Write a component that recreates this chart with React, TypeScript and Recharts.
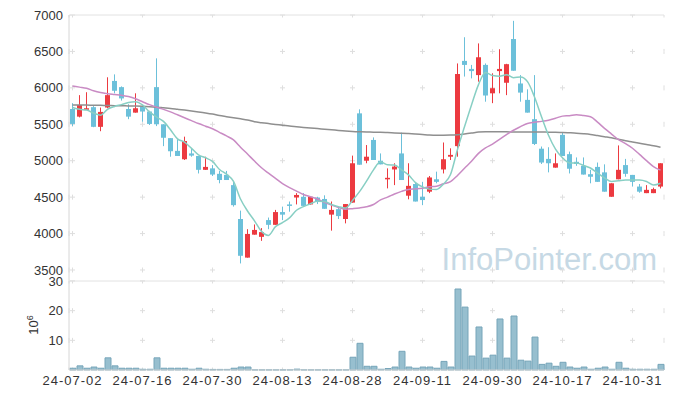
import React from 'react';
import { ComposedChart, BarChart, Bar, Line, XAxis, YAxis, CartesianGrid, ReferenceLine } from 'recharts';

// trading days shown on the x axis
const dates = [
  '24-07-02', '24-07-03', '24-07-04', '24-07-05', '24-07-08', '24-07-09', '24-07-10', '24-07-11', '24-07-12', '24-07-15',
  '24-07-16', '24-07-17', '24-07-18', '24-07-19', '24-07-22', '24-07-23', '24-07-24', '24-07-25', '24-07-26', '24-07-29',
  '24-07-30', '24-07-31', '24-08-01', '24-08-02', '24-08-05', '24-08-06', '24-08-07', '24-08-08', '24-08-09', '24-08-12',
  '24-08-13', '24-08-14', '24-08-16', '24-08-19', '24-08-20', '24-08-21', '24-08-22', '24-08-23', '24-08-26', '24-08-27',
  '24-08-28', '24-08-29', '24-08-30', '24-09-02', '24-09-03', '24-09-04', '24-09-05', '24-09-06', '24-09-09', '24-09-10',
  '24-09-11', '24-09-12', '24-09-13', '24-09-19', '24-09-20', '24-09-23', '24-09-24', '24-09-25', '24-09-26', '24-09-27',
  '24-09-30', '24-10-02', '24-10-04', '24-10-07', '24-10-08', '24-10-10', '24-10-11', '24-10-14', '24-10-15', '24-10-16',
  '24-10-17', '24-10-18', '24-10-21', '24-10-22', '24-10-23', '24-10-24', '24-10-25', '24-10-28', '24-10-29', '24-10-30',
  '24-10-31', '24-11-01', '24-11-04', '24-11-05', '24-11-06',
];

const opens = [
  5710, 5605, 5715, 5735, 5465, 5730, 6095, 6010, 5710, 5660,
  5745, 5675, 6010, 5500, 5310, 5135, 5020, 5100, 5065, 4875,
  4895, 4820, 4805, 4665, 4200, 3670, 3985, 3955, 4185, 4120,
  4295, 4400, 4495, 4505, 4400, 4495, 4475, 4260, 4335, 4200,
  4425, 5650, 5000, 5285, 5000, 4750, 4880, 5100, 4520, 4680,
  4505, 4575, 4745, 4880, 5055, 5200, 6370, 6260, 6175, 6315,
  5925, 6230, 6070, 6670, 6060, 5835, 5570, 5165, 5025, 4905,
  5355, 5090, 4985, 4930, 4815, 4915, 4840, 4505, 4745, 4940,
  4805, 4645, 4555, 4555, 4645,
];
const highs = [
  5790, 5900, 5940, 5750, 5730, 6145, 6185, 6020, 5775, 5925,
  5765, 5685, 6405, 5500, 5310, 5295, 5330, 5170, 5065, 5055,
  4940, 4860, 4860, 4710, 4315, 4060, 4125, 4075, 4220, 4325,
  4370, 4440, 4555, 4555, 4505, 4505, 4525, 4440, 4355, 4405,
  5070, 5705, 5215, 5320, 5100, 4895, 4965, 5385, 4965, 4700,
  4710, 4790, 4850, 5250, 5170, 6335, 6695, 6315, 6610, 6335,
  6200, 6530, 6330, 6920, 6175, 5980, 6175, 5195, 5185, 5100,
  5385, 5125, 5045, 5045, 4875, 4975, 4950, 4690, 5210, 5025,
  4805, 4680, 4665, 4630, 4965,
];
const lows = [
  5475, 5595, 5710, 5460, 5405, 5720, 5925, 5825, 5570, 5660,
  5535, 5490, 5475, 5200, 5055, 5065, 5010, 5055, 4825, 4875,
  4790, 4690, 4735, 4370, 3590, 3670, 3985, 3900, 4060, 4120,
  4185, 4300, 4400, 4380, 4395, 4405, 4340, 4040, 4200, 4140,
  4425, 4945, 4965, 5010, 4950, 4620, 4665, 4735, 4470, 4440,
  4390, 4555, 4690, 4825, 5010, 5055, 6155, 6130, 6085, 5810,
  5790, 5925, 5900, 6235, 5810, 5660, 5215, 4955, 4840, 4905,
  5065, 4825, 4930, 4810, 4690, 4710, 4575, 4505, 4745, 4780,
  4645, 4560, 4555, 4555, 4620,
];
const closes = [
  5505, 5765, 5720, 5465, 5670, 5900, 5960, 5855, 5605, 5720,
  5675, 5505, 5500, 5315, 5130, 5065, 5270, 5070, 4875, 4915,
  4810, 4735, 4735, 4390, 3695, 3995, 4050, 4020, 4120, 4295,
  4260, 4385, 4530, 4380, 4505, 4440, 4340, 4325, 4240, 4405,
  4965, 4945, 5055, 5010, 4950, 4765, 4920, 4735, 4655, 4440,
  4460, 4770, 4710, 5020, 5080, 6190, 6315, 6230, 6420, 5895,
  5995, 6260, 6325, 6235, 5935, 5660, 5230, 4975, 4965, 4965,
  5065, 4890, 4955, 4810, 4780, 4710, 4575, 4690, 4875, 4820,
  4710, 4575, 4600, 4610, 4965,
];

// moving averages
const ma5 = [
  5730, 5705, 5695, 5655, 5625, 5705, 5745, 5770, 5800, 5810,
  5765, 5670, 5600, 5540, 5425, 5300, 5255, 5170, 5080, 5040,
  4990, 4880, 4815, 4715, 4475, 4310, 4175, 4030, 3975, 4095,
  4150, 4215, 4320, 4370, 4410, 4445, 4440, 4400, 4370, 4350,
  4455, 4575, 4720, 4875, 4985, 4945, 4940, 4875, 4805, 4700,
  4640, 4610, 4605, 4680, 4810, 5155, 5465, 5765, 6045, 6210,
  6170, 6160, 6180, 6140, 6150, 6085, 5875, 5605, 5350, 5160,
  5040, 4970, 4970, 4935, 4900, 4830, 4765, 4715, 4725, 4735,
  4735, 4735, 4715, 4665, 4690,
];
const ma20 = [
  6025, 6010, 5995, 5960, 5935, 5920, 5910, 5900, 5880, 5850,
  5810, 5770, 5735, 5705, 5670, 5630, 5590, 5550, 5510, 5474,
  5439, 5390, 5340, 5285, 5186, 5091, 4995, 4903, 4829, 4758,
  4687, 4631, 4583, 4536, 4505, 4474, 4428, 4391, 4359, 4334,
  4342, 4352, 4368, 4399, 4462, 4500, 4543, 4579, 4606, 4613,
  4623, 4642, 4651, 4683, 4712, 4798, 4897, 4992, 5101, 5175,
  5227, 5293, 5357, 5418, 5467, 5512, 5528, 5540, 5556, 5582,
  5612, 5618, 5630, 5619, 5604, 5530, 5443, 5366, 5289, 5235,
  5171, 5087, 5001, 4920, 4871,
];
const ma60 = [
  5765, 5764, 5763, 5762, 5760, 5758, 5756, 5754, 5752, 5750,
  5747, 5742, 5735, 5726, 5717, 5706, 5695, 5683, 5670, 5656,
  5640, 5620, 5605, 5590, 5575, 5560, 5535, 5522, 5510, 5498,
  5487, 5475, 5466, 5457, 5449, 5441, 5433, 5425, 5416, 5408,
  5402, 5398, 5395, 5392, 5389, 5386, 5382, 5378, 5373, 5367,
  5360, 5353, 5350, 5350, 5352, 5358, 5368, 5380, 5393, 5399,
  5399, 5398, 5396, 5395, 5394, 5394, 5394, 5393, 5392, 5390,
  5387, 5383, 5378, 5370, 5360, 5345, 5330, 5315, 5295, 5275,
  5258, 5240, 5222, 5205, 5185,
];

// volume in millions of shares
const volumes = [
  0.6, 1.4, 0.6, 1.0, 0.6, 4.1, 1.4, 0.6, 0.6, 0.6,
  0.25, 0.25, 4.1, 0.6, 0.6, 0.6, 0.6, 0.25, 0.6, 0.25,
  0.2, 0.2, 0.2, 0.6, 1.0, 1.0, 0.05, 0.05, 0.05, 0.05,
  0.05, 0.05, 0.3, 0.05, 0.05, 0.05, 0.05, 0.05, 0.05, 0.05,
  4.3, 9.0, 1.25, 1.25, 0.25, 0.5, 1.0, 6.3, 1.0, 0.6,
  1.0, 1.0, 0.6, 2.9, 1.0, 27.3, 21.2, 4.7, 14.5, 4.0,
  5.0, 17.2, 4.0, 18.2, 3.3, 3.0, 11.1, 1.9, 2.3, 1.25,
  2.6, 1.0, 0.6, 1.0, 0.25, 0.6, 1.0, 0.25, 2.6, 0.6,
  0.25, 0.25, 0.25, 0.25, 1.9,
];

const priceTicks = [3500, 4000, 4500, 5000, 5500, 6000, 6500, 7000];
const volumeTicks = [10, 20, 30];

const rows = dates.map((date, i) => ({
  date,
  open: opens[i],
  high: highs[i],
  low: lows[i],
  close: closes[i],
  range: [lows[i], highs[i]],
  ma5: ma5[i],
  ma20: ma20[i],
  ma60: ma60[i],
  vol: volumes[i],
}));

const FONT = '"Liberation Sans", Arial, sans-serif';
const UP = '#ec3a40';
const DOWN = '#6cc0da';
const GRID = '#dedede';
const FRAME = '#e2e2e2';

const Candle = (props: any) => {
  const { x, y, width, height, payload } = props;
  if (!payload) return null;
  const { open, close, high, low } = payload;
  const top = Math.min(y, y + height);
  const h = Math.abs(height);
  const k = high === low ? 0 : h / (high - low);
  const c = Math.floor(x + width / 2);
  const color = close >= open ? UP : DOWN;
  const bodyTop = top + (high - Math.max(open, close)) * k;
  const bodyH = Math.max(1.5, Math.abs(open - close) * k);
  return (
    <g>
      <line x1={c + 0.5} x2={c + 0.5} y1={top} y2={top + h} stroke={color} strokeWidth={1} />
      <rect x={c - 2} y={bodyTop} width={5} height={bodyH} fill={color} />
    </g>
  );
};

const tickStyle = { fill: '#333', fontSize: 13, fontFamily: FONT };

export default function App() {
  return (
    <div style={{ position: 'absolute', left: 0, top: 0, width: 673, height: 399, background: '#fff', fontFamily: FONT }}>
      <svg width={673} height={399} style={{ position: 'absolute', left: 0, top: 0 }}>
        <text x={657} y={270} textAnchor="end" fontSize={31} fontFamily={FONT} fill="#c6d9e5">
          InfoPointer.com
        </text>
      </svg>

      <div style={{ position: 'absolute', left: 0, top: 0 }}>
        <ComposedChart width={673} height={281} data={rows} margin={{ top: 15, right: 9, bottom: 0, left: 0 }}>
          <CartesianGrid horizontal vertical={false} stroke={GRID} strokeDasharray="0 1 5 64" />
          <CartesianGrid horizontal={false} vertical stroke={GRID} strokeDasharray="2.5 31.43 2.5 0" />
          <XAxis dataKey="date" hide interval={9} />
          <YAxis
            width={69}
            domain={[3349, 7000]}
            ticks={priceTicks}
            interval={0}
            allowDataOverflow
            tickLine={false}
            tickSize={0}
            tickMargin={6}
            axisLine={{ stroke: '#d6d6d6' }}
            tick={tickStyle}
          />
          <YAxis yAxisId="r" orientation="right" width={0} domain={[0, 1]} tick={false} tickLine={false} axisLine={{ stroke: FRAME }} />
          <ReferenceLine y={7000} stroke={FRAME} />
          <Bar dataKey="range" barSize={5} shape={Candle} isAnimationActive={false} />
          <Line type="monotone" dataKey="ma60" stroke="#8f8f8f" strokeWidth={1.5} dot={false} isAnimationActive={false} />
          <Line type="monotone" dataKey="ma20" stroke="#c98bc4" strokeWidth={1.5} dot={false} isAnimationActive={false} />
          <Line type="monotone" dataKey="ma5" stroke="#88cfc4" strokeWidth={1.5} dot={false} isAnimationActive={false} />
        </ComposedChart>
      </div>

      <div style={{ position: 'absolute', left: 0, top: 268 }}>
        <BarChart width={673} height={131} data={rows} margin={{ top: 13, right: 9, bottom: 0, left: 0 }}>
          <CartesianGrid horizontal vertical={false} stroke={GRID} strokeDasharray="0 1 5 64" />
          <CartesianGrid horizontal={false} vertical stroke={GRID} strokeDasharray="2.5 24.67 2.5 0" />
          <XAxis
            dataKey="date"
            interval={9}
            height={29}
            tickLine={false}
            tickSize={0}
            tickMargin={6}
            axisLine={{ stroke: '#d6d6d6' }}
            tick={{ ...tickStyle, letterSpacing: 1 }}
          />
          <YAxis
            width={69}
            domain={[0, 30]}
            ticks={volumeTicks}
            interval={0}
            tickLine={false}
            tickSize={0}
            tickMargin={6}
            axisLine={{ stroke: '#d6d6d6' }}
            tick={tickStyle}
          />
          <YAxis yAxisId="r" orientation="right" width={0} domain={[0, 1]} tick={false} tickLine={false} axisLine={{ stroke: FRAME }} />
          <ReferenceLine y={30} stroke={FRAME} />
          <Bar dataKey="vol" barSize={6} fill="#97bfcf" stroke="#76a5b9" strokeWidth={1} isAnimationActive={false} />
        </BarChart>
      </div>

      <div
        style={{
          position: 'absolute',
          left: 33,
          top: 325,
          transform: 'translate(-50%, -50%) rotate(-90deg)',
          fontSize: 13,
          color: '#333',
          whiteSpace: 'nowrap',
          lineHeight: 1,
        }}
      >
        10<sup style={{ fontSize: 9 }}>6</sup>
      </div>
    </div>
  );
}
